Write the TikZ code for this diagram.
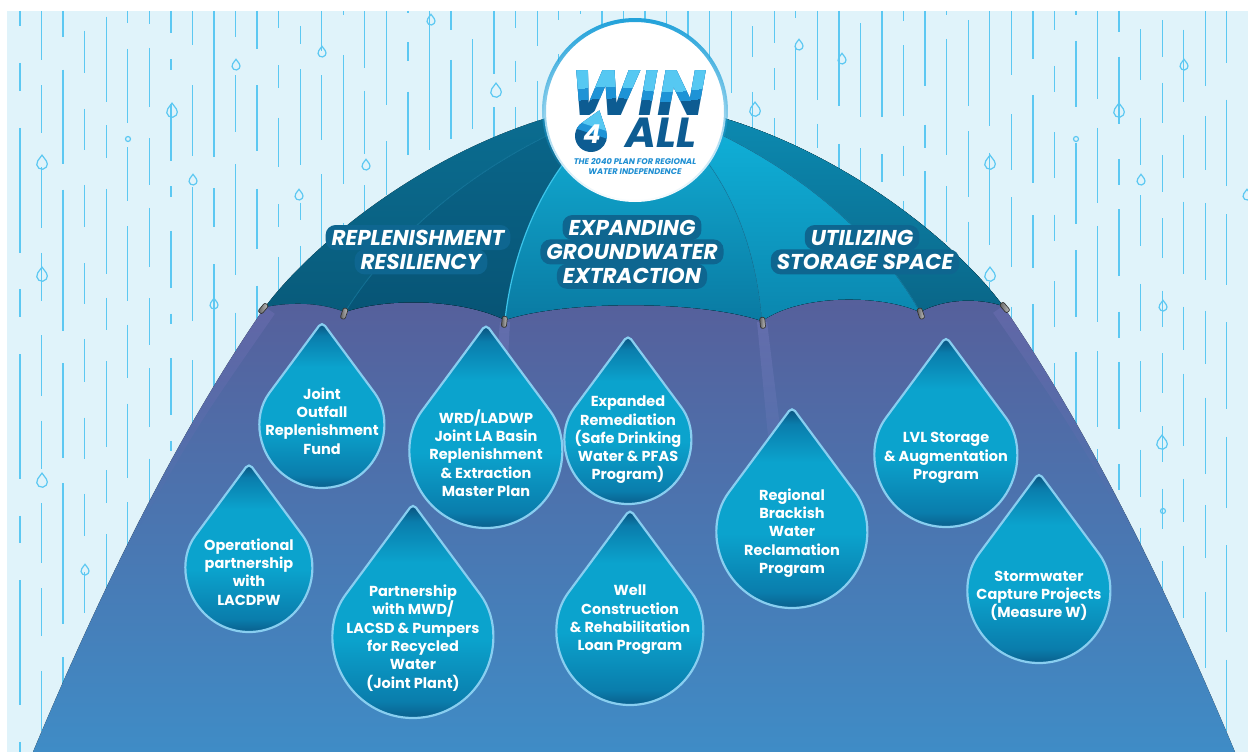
\documentclass[tikz,border=0pt]{standalone}
\usepackage{fontspec}
\setmainfont{Poppins}
\usetikzlibrary{positioning,fadings}

\definecolor{rainbg}{HTML}{E0F3FA}
\definecolor{rainline}{HTML}{5CC8F2}
\definecolor{undertop}{HTML}{585B97}
\definecolor{underbot}{HTML}{3F8CC6}
\definecolor{edgeglow}{HTML}{6E70B4}
\definecolor{shaftcol}{HTML}{7E84C8}
\definecolor{dropdeep}{HTML}{0A4C78}
\definecolor{dropmid}{HTML}{0A7DAC}
\definecolor{droplight}{HTML}{0BA3CD}
\definecolor{dropedge}{HTML}{88CEF0}
\definecolor{halo}{HTML}{0E6690}
\definecolor{capdark}{HTML}{5D5D5D}
\definecolor{caplight}{HTML}{C8C8C8}
\definecolor{capedge}{HTML}{333333}
\definecolor{ringblue}{HTML}{22A2DA}
\definecolor{logolight}{HTML}{56C8F2}
\definecolor{logomid}{HTML}{1E93D6}
\definecolor{logodark}{HTML}{0D5C92}
\definecolor{tagblue}{HTML}{1F8FD2}
\definecolor{panelAtop}{RGB}{11,110,146}
\definecolor{panelAbot}{RGB}{8,90,122}
\definecolor{panelBtop}{RGB}{10,104,140}
\definecolor{panelBbot}{RGB}{7,84,117}
\definecolor{panelCtop}{RGB}{18,180,219}
\definecolor{panelCbot}{RGB}{10,122,162}
\definecolor{panelDtop}{RGB}{16,182,222}
\definecolor{panelDbot}{RGB}{11,134,174}
\definecolor{panelEtop}{RGB}{12,141,180}
\definecolor{panelEbot}{RGB}{10,102,136}
\definecolor{ribbright}{HTML}{3CC4EA}
\definecolor{ribdim}{HTML}{1B86AE}

\pgfdeclareverticalshading{dropshade}{100bp}{color(0bp)=(dropdeep); color(25bp)=(dropdeep); color(31bp)=(dropmid); color(45bp)=(droplight); color(62bp)=(droplight); color(71bp)=(dropmid); color(75bp)=(dropdeep); color(100bp)=(dropdeep)}
\tikzfading[name=fadedown, top color=transparent!0, bottom color=transparent!100]

% unit drop: circle of radius 1 with its tip 1.68 above the centre
\newcommand\droppath{(0,-1.68) -- (216.5:1) arc[start angle=216.5, end angle=-36.5, radius=1] -- cycle}

% name, centre, radius, text position, text
\newcommand\waterdrop[5]{%
  \begin{scope}[shift={#2}, scale=#3]
    \path[drop body] \droppath;
  \end{scope}
  \node[drop text] (#1) at #4 {#5};
}

\begin{document}
\begin{tikzpicture}[x=1pt,y=-1pt]
\tikzstyle{rain} = [draw=rainline, line width=1.3pt]
\tikzstyle{raindrop} = [draw=rainline, line width=1.2pt]
\tikzstyle{under} = [top color=undertop, bottom color=underbot]
\tikzstyle{shaft} = [fill=shaftcol, opacity=0.35, path fading=fadedown]
\tikzstyle{drop body} = [shade, shading=dropshade, draw=dropedge, line width=2.2pt, rounded corners=5pt]
\tikzstyle{drop text} = [align=center, text=white, inner sep=0pt, font=\fontsize{14.5}{18.3}\selectfont\bfseries]
\tikzstyle{headline} = [fill=halo, rounded corners=10pt, text=white, inner xsep=6pt, inner ysep=5pt, text height=15pt, text depth=0pt, font=\fontsize{21.5}{21.5}\selectfont\bfseries\itshape]
\tikzstyle{rib cap} = [rectangle, rounded corners=2pt, draw=capedge, line width=0.7pt, left color=capdark, right color=caplight, minimum width=5pt, minimum height=11pt, inner sep=0pt, anchor=north]
\tikzstyle{logo word} = [inner sep=0pt, anchor=base, text depth=0pt, text=logodark, font=\bfseries\itshape]
\tikzstyle{tagline} = [align=center, inner sep=0pt, text=tagblue, font=\fontsize{8.2}{10}\selectfont\bfseries\itshape]

\useasboundingbox (0,0) rectangle (1248,752);
\fill[rainbg] (7,11) rectangle (1248,752);

% rain
\pgfmathsetseed{4}
\foreach \i in {0,...,56}{
  \pgfmathsetmacro\rx{20+21.55*\i}
  \pgfmathsetmacro\la{15+140*rnd}
  \pgfmathsetmacro\ga{22+18*rnd}
  \pgfmathsetmacro\lb{10+90*rnd}
  \pgfmathsetmacro\gb{22+18*rnd}
  \pgfmathsetmacro\ph{200*rnd}
  \draw[rain, dash pattern=on \la pt off \ga pt on \lb pt off \gb pt, dash phase=\ph pt] (\rx,11) -- (\rx,752);
}
\foreach \dx/\dy/\ds in {42/164/5.3, 172/112/5.3, 42/276/5.3, 496/92/5.3, 755/111/5.3, 990/164/5.3, 1119/112/5.3, 990/276/5.3, 1162/444/5.3, 42/482/5.3,
  236/66/4, 193/181/4, 299/196/4, 322/53/4, 431/21/4, 366/166/4, 799/46/4, 842/60/4, 1184/66/4, 1141/181/4, 1163/307/4, 1247/196/4, 85/571/4, 214/305/4}{
  \begin{scope}[shift={(\dx,\dy)}, scale=\ds]
    \draw[raindrop] \droppath;
  \end{scope}
}
\foreach \cx/\cy in {128/139, 1076/139, 1163/511}
  \draw[raindrop] (\cx,\cy) circle[radius=2.5];

% rib tips
\coordinate (apex) at (635,100);
\coordinate (t1) at (265,307);
\coordinate (t2) at (345,312);
\coordinate (t3) at (505,320);
\coordinate (t4) at (762,321);
\coordinate (t5) at (920,312);
\coordinate (t6) at (1003,306);

% inside of the umbrella
\fill[under] (33,752) .. controls (110.4,567.3) and (187.7,418.3) .. (t1) -- (450,255) -- (820,255) -- (t6) .. controls (1080.3,418.3) and (1157.6,567.3) .. (1235,752) -- cycle;
\begin{scope}
  \clip (33,752) .. controls (110.4,567.3) and (187.7,418.3) .. (t1) -- (450,255) -- (820,255) -- (t6) .. controls (1080.3,418.3) and (1157.6,567.3) .. (1235,752) -- cycle;
  \draw[edgeglow, line width=24pt, opacity=0.5, path fading=fadedown] (130,520) .. controls (187.7,418.3) .. (t1);
  \draw[edgeglow, line width=24pt, opacity=0.5, path fading=fadedown] (1138,520) .. controls (1080.3,418.3) .. (t6);
\end{scope}
\fill[shaft] (500,322) -- (510,322) -- (498,540) -- (482,540) -- cycle;
\fill[shaft] (757,322) -- (767,322) -- (794,540) -- (778,540) -- cycle;

% canopy panels
\fill[top color=panelAtop, bottom color=panelAbot] (t1) .. controls (315,240) and (460,118) .. (apex) .. controls (810,118) and (955,240) .. (t6)
  .. controls (980,298) and (945,298) .. (t5) .. controls (880,294) and (800,294) .. (t4)
  .. controls (700,300) and (565,300) .. (t3) .. controls (460,298) and (385,298) .. (t2)
  .. controls (320,302) and (290,302) .. (t1) -- cycle;
\fill[top color=panelBtop, bottom color=panelBbot] (t2) .. controls (390,240) and (480,150) .. (apex) .. controls (560,140) and (515,230) .. (t3) .. controls (460,298) and (385,298) .. (t2) -- cycle;
\fill[top color=panelCtop, bottom color=panelCbot] (t3) .. controls (515,230) and (560,140) .. (apex) .. controls (715,140) and (755,230) .. (t4) .. controls (700,300) and (565,300) .. (t3) -- cycle;
\fill[top color=panelDtop, bottom color=panelDbot] (t4) .. controls (755,230) and (715,140) .. (apex) .. controls (790,150) and (880,240) .. (t5) .. controls (880,294) and (800,294) .. (t4) -- cycle;
\fill[top color=panelEtop, bottom color=panelEbot] (t5) .. controls (880,240) and (790,150) .. (apex) .. controls (810,118) and (955,240) .. (t6) .. controls (980,298) and (945,298) .. (t5) -- cycle;
\draw[ribdim, line width=0.8pt, opacity=0.7] (t2) .. controls (390,240) and (480,150) .. (apex);
\draw[ribbright, line width=1.2pt] (t3) .. controls (515,230) and (560,140) .. (apex);
\draw[ribdim, line width=0.8pt, opacity=0.7] (t4) .. controls (755,230) and (715,140) .. (apex);
\draw[ribdim, line width=0.8pt, opacity=0.7] (t5) .. controls (880,240) and (790,150) .. (apex);

\node[rib cap, rotate=-40] (cap1) at (267,304) {};
\node[rib cap, rotate=-18] (cap2) at (346,308) {};
\node[rib cap, rotate=-6] (cap3) at (505,316) {};
\node[rib cap, rotate=6] (cap4) at (762,317) {};
\node[rib cap, rotate=18] (cap5) at (919,308) {};
\node[rib cap, rotate=40] (cap6) at (1001,303) {};

% pillar headings
\node[headline] (rep1) at (418,237.5) {REPLENISHMENT};
\node[headline, below=-1pt of rep1, xshift=3pt] (rep2) {RESILIENCY};
\node[headline] (exp1) at (632,227.5) {EXPANDING};
\node[headline, below=-1pt of exp1] (exp2) {GROUNDWATER};
\node[headline, below=-1pt of exp2] (exp3) {EXTRACTION};
\node[headline] (use1) at (862,237.5) {UTILIZING};
\node[headline, below=-1pt of use1, xshift=3pt] (use2) {STORAGE SPACE};

% logo
\node[circle, fill=white, minimum size=182pt, inner sep=0pt] (disc) at (635,111) {};
\draw[ringblue, line width=4pt, path fading=fadedown] (disc.center) circle[radius=91];
\node[logo word, font=\fontsize{64}{64}\selectfont\bfseries\itshape] (win) at (638,115) {WIN};
\begin{scope}
  \clip (550,30) -- (550,104) .. controls (590,98) and (620,96) .. (650,100) .. controls (680,104) and (700,98) .. (725,95) -- (725,30) -- cycle;
  \node[logo word, text=logomid, font=\fontsize{64}{64}\selectfont\bfseries\itshape] (winmid) at (638,115) {WIN};
\end{scope}
\begin{scope}
  \clip (550,30) -- (550,94) .. controls (585,86) and (615,84) .. (645,90) .. controls (675,95) and (700,88) .. (725,85) -- (725,30) -- cycle;
  \node[logo word, text=logolight, font=\fontsize{64}{64}\selectfont\bfseries\itshape] (wintop) at (638,115) {WIN};
\end{scope}
\node[logo word, font=\fontsize{42}{42}\selectfont\bfseries\itshape] (all) at (661,147) {ALL};
\begin{scope}[shift={(591,136)}, rotate=-18, scale=16]
  \draw[white, line width=4pt] \droppath;
  \fill[logodark] \droppath;
  \clip \droppath;
  \fill[logomid] (-2,-2) rectangle (2,-0.15);
  \fill[logolight] (-2,-2) rectangle (2,-0.6);
\end{scope}
\node[logo word, text=white, text height=18pt, font=\fontsize{26}{26}\selectfont\bfseries\itshape] (four) at (592,143) {4};
\node[tagline] (tag) at (635,167) {THE 2040 PLAN FOR REGIONAL\\WATER INDEPENDENCE};

% projects
\waterdrop{joint}{(322,426)}{62}{(322,421)}{Joint\\Outfall\\Replenishment\\Fund}
\waterdrop{basin}{(486,452)}{76}{(486,453)}{WRD/LADWP\\Joint LA Basin\\Replenishment\\\& Extraction\\Master Plan}
\waterdrop{remed}{(628,441)}{63}{(628,440)}{Expanded\\Remediation\\(Safe Drinking\\Water \& PFAS\\Program)}
\waterdrop{lacdpw}{(249,569)}{63}{(249,572)}{Operational\\partnership\\with\\LACDPW}
\waterdrop{recycled}{(413,638)}{80}{(413,638)}{Partnership\\with MWD/\\LACSD \& Pumpers\\for Recycled\\Water\\(Joint Plant)}
\waterdrop{well}{(630,632)}{73}{(630,620)}{Well\\Construction\\\& Rehabilitation\\Loan Program}
\waterdrop{brackish}{(792,533)}{75}{(792,533)}{Regional\\Brackish\\Water\\Reclamation\\Program}
\waterdrop{lvl}{(946,456)}{71}{(946,458)}{LVL Storage\\\& Augmentation\\Program}
\waterdrop{storm}{(1039,592)}{71}{(1039,596)}{Stormwater\\Capture Projects\\(Measure W)}

\end{tikzpicture}
\end{document}
